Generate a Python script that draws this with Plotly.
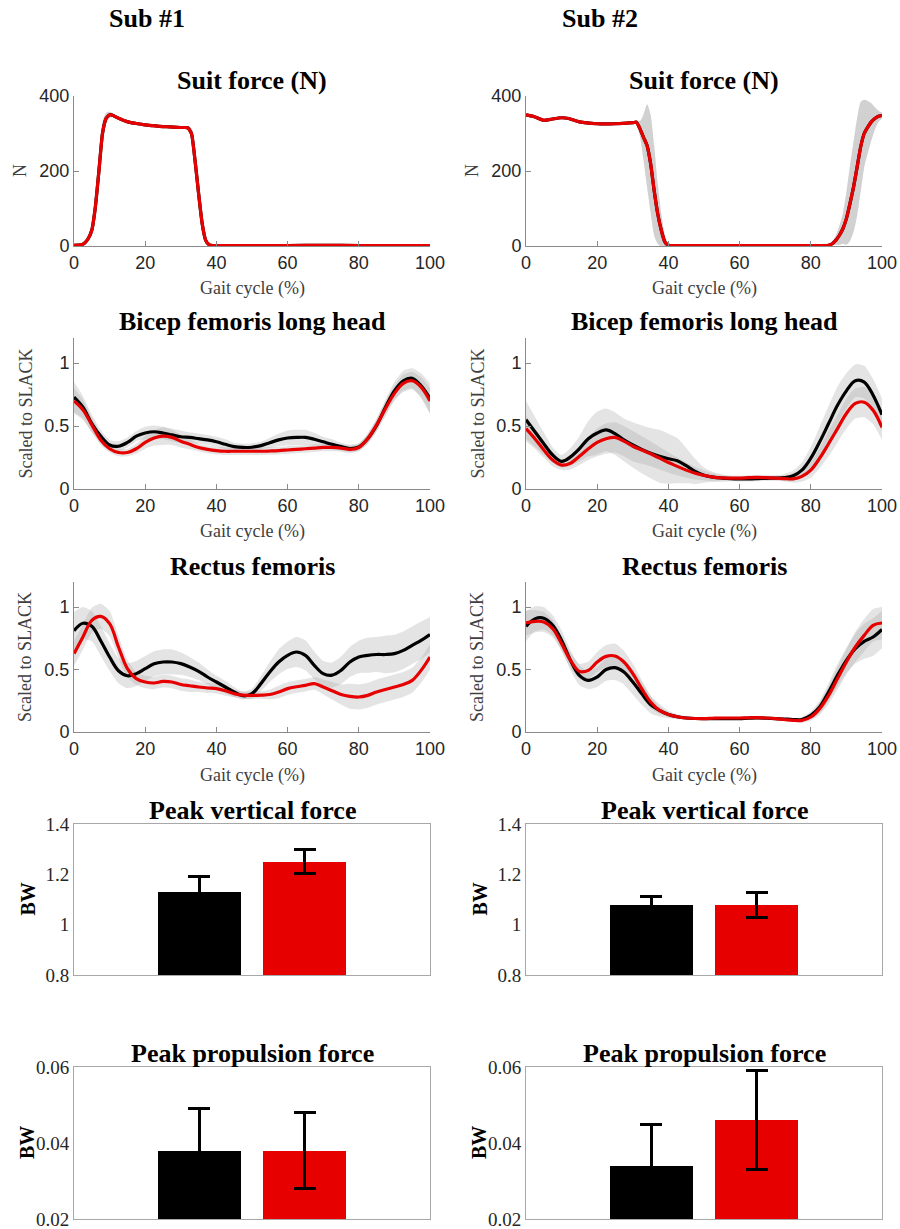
import plotly.graph_objects as go

# ---------------- DATA ----------------
GAIT = [0, 2.5, 5, 7.5, 10, 12.5, 15, 17.5, 20, 22.5, 25, 27.5, 30, 32.5, 35, 37.5, 40, 42.5, 45, 47.5,
        50, 52.5, 55, 57.5, 60, 62.5, 65, 67.5, 70, 72.5, 75, 77.5, 80, 82.5, 85, 87.5, 90, 92.5, 95, 97.5, 100]

# Suit force, subject 1
SF1_X = [0, 2, 3, 4, 5, 6, 7, 8, 9, 10, 11, 12, 14, 16, 18, 20, 22, 24, 26, 28,
         30, 31, 32, 33, 34, 35, 36, 37, 38, 39, 40, 50, 60, 70, 80, 90, 100]
SF1_Y = [2, 3, 8, 20, 42, 104, 200, 300, 340, 350, 348, 343, 335, 329, 326, 323, 321, 319, 318, 317,
         316, 316, 315, 300, 228, 140, 60, 15, 3, 1, 1, 1, 1, 2, 1, 1, 1]
SF1_SD = [2, 2, 4, 8, 15, 30, 40, 30, 15, 8, 5, 4, 3, 3, 3, 3, 3, 3, 3, 3,
          3, 3, 5, 15, 30, 35, 25, 10, 3, 1, 1, 1, 1, 1, 1, 1, 1]

# Suit force, subject 2
SF2_X = [0, 2, 5, 7, 10, 12, 15, 20, 25, 30, 31, 32, 33, 34, 35, 36, 37, 38, 39, 40,
         45, 50, 60, 70, 80, 84, 85, 86, 87, 88, 89, 90, 91, 92, 93, 94, 95, 96, 97, 98, 99, 100]
SF2_Y = [350, 346, 335, 338, 342, 340, 331, 326, 326, 329, 330, 313, 290, 268, 220, 148, 86, 42, 11, 2,
         1, 1, 1, 1, 1, 1, 2, 6, 15, 28, 46, 73, 113, 157, 210, 264, 300, 317, 331, 340, 346, 348]
SF2_SD = [3, 3, 3, 3, 3, 3, 3, 3, 3, 3, 5, 20, 60, 110, 130, 120, 80, 45, 20, 5,
          1, 1, 1, 1, 1, 1, 2, 5, 12, 25, 40, 70, 100, 120, 130, 120, 90, 70, 50, 30, 15, 8]

# Bicep femoris long head
BF1_BLACK = [0.73, 0.65, 0.52, 0.42, 0.35, 0.34, 0.37, 0.42, 0.445, 0.455, 0.445, 0.43, 0.415, 0.41, 0.40, 0.39,
             0.375, 0.355, 0.337, 0.33, 0.332, 0.345, 0.368, 0.39, 0.405, 0.41, 0.41, 0.395, 0.375, 0.355, 0.337,
             0.322, 0.335, 0.40, 0.505, 0.65, 0.78, 0.86, 0.88, 0.82, 0.72]
BF1_BLACK_SD = [0.12, 0.09, 0.07, 0.05, 0.04, 0.04, 0.04, 0.04, 0.05, 0.05, 0.05, 0.05, 0.05, 0.04, 0.04, 0.04,
                0.04, 0.04, 0.03, 0.03, 0.03, 0.03, 0.04, 0.05, 0.06, 0.06, 0.06, 0.05, 0.04, 0.04, 0.03,
                0.03, 0.03, 0.04, 0.05, 0.06, 0.07, 0.08, 0.08, 0.10, 0.12]
BF1_RED = [0.70, 0.63, 0.51, 0.39, 0.32, 0.29, 0.29, 0.32, 0.37, 0.405, 0.42, 0.41, 0.38, 0.355, 0.33, 0.315,
           0.305, 0.30, 0.30, 0.30, 0.30, 0.30, 0.302, 0.305, 0.31, 0.315, 0.32, 0.325, 0.33, 0.33, 0.325,
           0.315, 0.33, 0.40, 0.51, 0.64, 0.76, 0.84, 0.86, 0.81, 0.70]
BF1_RED_SD = [0.10, 0.08, 0.06, 0.04, 0.03, 0.03, 0.03, 0.04, 0.05, 0.06, 0.07, 0.06, 0.05, 0.04, 0.03, 0.03,
              0.03, 0.03, 0.03, 0.03, 0.03, 0.03, 0.03, 0.03, 0.03, 0.03, 0.03, 0.03, 0.03, 0.03, 0.03,
              0.03, 0.03, 0.04, 0.05, 0.06, 0.06, 0.07, 0.07, 0.08, 0.10]

BF2_BLACK = [0.55, 0.455, 0.36, 0.27, 0.22, 0.255, 0.32, 0.40, 0.445, 0.47, 0.44, 0.39, 0.35, 0.315, 0.285, 0.26,
             0.24, 0.225, 0.185, 0.14, 0.11, 0.095, 0.087, 0.082, 0.08, 0.08, 0.082, 0.085, 0.087, 0.09, 0.105,
             0.15, 0.245, 0.375, 0.52, 0.665, 0.78, 0.86, 0.85, 0.745, 0.59]
BF2_BLACK_SD = [0.15, 0.12, 0.09, 0.06, 0.05, 0.07, 0.10, 0.14, 0.17, 0.17, 0.17, 0.17, 0.18, 0.19, 0.20, 0.21,
                0.20, 0.18, 0.14, 0.10, 0.06, 0.04, 0.03, 0.02, 0.02, 0.02, 0.02, 0.02, 0.02, 0.03, 0.04,
                0.06, 0.09, 0.12, 0.14, 0.15, 0.14, 0.13, 0.13, 0.13, 0.13]
BF2_RED = [0.48, 0.40, 0.31, 0.23, 0.19, 0.205, 0.26, 0.32, 0.37, 0.40, 0.41, 0.38, 0.34, 0.31, 0.28, 0.245,
           0.21, 0.18, 0.15, 0.125, 0.108, 0.095, 0.088, 0.087, 0.087, 0.09, 0.092, 0.09, 0.087, 0.083, 0.08,
           0.10, 0.15, 0.245, 0.36, 0.48, 0.60, 0.68, 0.69, 0.625, 0.49]
BF2_RED_SD = [0.10, 0.08, 0.06, 0.05, 0.04, 0.05, 0.07, 0.09, 0.11, 0.12, 0.12, 0.12, 0.12, 0.11, 0.10, 0.09,
              0.08, 0.07, 0.06, 0.05, 0.04, 0.03, 0.02, 0.02, 0.02, 0.02, 0.02, 0.02, 0.02, 0.02, 0.03,
              0.04, 0.06, 0.08, 0.10, 0.11, 0.12, 0.12, 0.12, 0.11, 0.10]

# Rectus femoris
RF1_BLACK = [0.81, 0.87, 0.845, 0.73, 0.60, 0.49, 0.45, 0.467, 0.507, 0.545, 0.56, 0.56, 0.547, 0.52, 0.485, 0.44,
             0.40, 0.36, 0.32, 0.29, 0.307, 0.387, 0.48, 0.56, 0.613, 0.64, 0.613, 0.533, 0.467, 0.455, 0.493,
             0.56, 0.60, 0.613, 0.62, 0.62, 0.627, 0.653, 0.693, 0.733, 0.78]
RF1_BLACK_SD = [0.15, 0.13, 0.12, 0.12, 0.11, 0.10, 0.10, 0.10, 0.10, 0.10, 0.10, 0.10, 0.09, 0.08, 0.07, 0.06,
                0.05, 0.05, 0.04, 0.03, 0.04, 0.06, 0.08, 0.10, 0.11, 0.12, 0.12, 0.11, 0.10, 0.10, 0.11,
                0.12, 0.13, 0.14, 0.14, 0.15, 0.15, 0.15, 0.15, 0.15, 0.14]
RF1_RED = [0.627, 0.76, 0.893, 0.925, 0.867, 0.68, 0.507, 0.427, 0.40, 0.392, 0.405, 0.40, 0.38, 0.37, 0.36, 0.352,
           0.347, 0.33, 0.307, 0.295, 0.293, 0.295, 0.30, 0.32, 0.347, 0.362, 0.373, 0.387, 0.36, 0.33, 0.30,
           0.285, 0.28, 0.293, 0.32, 0.34, 0.36, 0.38, 0.413, 0.493, 0.60]
RF1_RED_SD = [0.10, 0.10, 0.10, 0.10, 0.10, 0.09, 0.07, 0.05, 0.05, 0.05, 0.05, 0.05, 0.05, 0.05, 0.04, 0.04,
              0.04, 0.04, 0.03, 0.03, 0.03, 0.03, 0.04, 0.05, 0.05, 0.05, 0.05, 0.05, 0.06, 0.07, 0.08,
              0.10, 0.10, 0.10, 0.10, 0.10, 0.10, 0.10, 0.10, 0.10, 0.10]

RF2_BLACK = [0.845, 0.905, 0.91, 0.853, 0.733, 0.573, 0.453, 0.413, 0.44, 0.50, 0.515, 0.48, 0.40, 0.307, 0.22, 0.173,
             0.14, 0.122, 0.112, 0.108, 0.107, 0.107, 0.107, 0.107, 0.107, 0.11, 0.112, 0.11, 0.107, 0.104, 0.10,
             0.10, 0.133, 0.20, 0.32, 0.453, 0.573, 0.667, 0.725, 0.76, 0.82]
RF2_BLACK_SD = [0.12, 0.10, 0.09, 0.08, 0.08, 0.08, 0.08, 0.07, 0.08, 0.09, 0.10, 0.10, 0.10, 0.09, 0.07, 0.05,
                0.03, 0.02, 0.015, 0.01, 0.01, 0.01, 0.01, 0.01, 0.01, 0.01, 0.01, 0.01, 0.01, 0.01, 0.01,
                0.02, 0.03, 0.05, 0.07, 0.09, 0.10, 0.12, 0.14, 0.15, 0.15]
RF2_RED = [0.872, 0.885, 0.88, 0.827, 0.707, 0.573, 0.485, 0.493, 0.56, 0.605, 0.608, 0.56, 0.467, 0.347, 0.24, 0.173,
           0.14, 0.122, 0.112, 0.108, 0.107, 0.11, 0.112, 0.112, 0.112, 0.114, 0.115, 0.112, 0.107, 0.10, 0.093,
           0.093, 0.12, 0.187, 0.293, 0.427, 0.56, 0.68, 0.773, 0.853, 0.872]
RF2_RED_SD = [0.10, 0.09, 0.08, 0.07, 0.06, 0.06, 0.06, 0.07, 0.08, 0.09, 0.10, 0.09, 0.08, 0.07, 0.05, 0.03,
              0.02, 0.015, 0.01, 0.01, 0.01, 0.01, 0.01, 0.01, 0.01, 0.01, 0.01, 0.01, 0.01, 0.01, 0.01,
              0.02, 0.03, 0.05, 0.07, 0.09, 0.10, 0.12, 0.13, 0.13, 0.13]

# Bar charts (No suit = black, Suit = red)
CONDITIONS = ["No suit", "Suit"]
PVF1 = [1.13, 1.25]
PVF1_ERR = [0.06, 0.047]
PVF2 = [1.079, 1.079]
PVF2_ERR = [0.033, 0.05]
PPF1 = [0.038, 0.038]
PPF1_ERR = [0.011, 0.010]
PPF2 = [0.034, 0.046]
PPF2_ERR = [0.011, 0.013]

# ---------------- STYLE / LAYOUT ----------------
W, H = 900, 1229
SERIF = "Liberation Serif, Times New Roman, serif"
SANS = "Liberation Sans, Arial, Helvetica, sans-serif"
BLACK = "#000000"
RED = "#e60000"
BAND = "rgba(165,165,165,0.30)"
TICKC = "#262626"
AXC = "#8a8a8a"

COLS = [(74, 430), (526, 882)]
ROWS = [(96, 246), (338, 489), (582, 732), (824, 975), (1067, 1219)]


def xd(c):
    return [c[0] / W, c[1] / W]


def yd(r):
    return [1 - r[1] / H, 1 - r[0] / H]


fig = go.Figure()
annotations = []
axis_idx = 0


def ann(text, px, py, size, family=SERIF, color="#000", angle=0):
    annotations.append(dict(text=text, x=px / W, y=1 - py / H, xref="paper", yref="paper",
                            showarrow=False, xanchor="center", yanchor="middle",
                            font=dict(family=family, size=size, color=color), textangle=angle))


def next_axes():
    global axis_idx
    axis_idx += 1
    s = "" if axis_idx == 1 else str(axis_idx)
    return "x" + s, "y" + s, "xaxis" + s, "yaxis" + s


def band(xa, ya, x, mean, sd):
    hi = [m + s for m, s in zip(mean, sd)]
    lo = [m - s for m, s in zip(mean, sd)]
    fig.add_trace(go.Scatter(x=x, y=hi, xaxis=xa, yaxis=ya, mode="lines",
                             line=dict(width=0, shape="spline", smoothing=0.6), hoverinfo="skip",
                             showlegend=False))
    fig.add_trace(go.Scatter(x=x, y=lo, xaxis=xa, yaxis=ya, mode="lines", fill="tonexty",
                             fillcolor=BAND, line=dict(width=0, shape="spline", smoothing=0.6),
                             hoverinfo="skip", showlegend=False))


def line_panel(row, col, title, x, series, yrange, ytickvals, yticktext, ylabel, smoothing=1.0):
    xa, ya, xk, yk = next_axes()
    for mean, sd, color in series:
        band(xa, ya, x, mean, sd)
    for mean, sd, color in series:
        fig.add_trace(go.Scatter(x=x, y=mean, xaxis=xa, yaxis=ya, mode="lines",
                                 line=dict(color=color, width=3.2, shape="spline", smoothing=smoothing),
                                 showlegend=False))
    fig.layout[xk] = dict(domain=xd(COLS[col]), anchor=ya, range=[0, 100], automargin=False,
                          tickvals=[0, 20, 40, 60, 80, 100], ticks="inside", ticklen=5, tickcolor=AXC,
                          showline=True, linecolor=AXC, linewidth=1, showgrid=False, zeroline=False,
                          ticklabeloverflow="allow",
                          tickfont=dict(family=SANS, size=18, color=TICKC), fixedrange=True)
    fig.layout[yk] = dict(domain=yd(ROWS[row]), anchor=xa, range=yrange, automargin=False,
                          tickvals=ytickvals, ticktext=yticktext, ticks="inside", ticklen=5, tickcolor=AXC,
                          showline=True, linecolor=AXC, linewidth=1, showgrid=False, zeroline=False,
                          ticklabeloverflow="allow",
                          tickfont=dict(family=SANS, size=18, color=TICKC), fixedrange=True)
    cx = (COLS[col][0] + COLS[col][1]) / 2
    top, bot = ROWS[row]
    ann("<b>" + title + "</b>", cx, top - 16, 26)
    ann("Gait cycle (%)", cx, bot + 43, 18, color="#404040")
    ann(ylabel, COLS[col][0] - (54 if ylabel == "N" else 49), (top + bot) / 2, 18,
        color="#404040", angle=-90)


def bar_panel(row, col, title, values, errs, yrange, ytickvals, yticktext):
    xa, ya, xk, yk = next_axes()
    fig.add_trace(go.Bar(x=CONDITIONS, y=[v - yrange[0] for v in values], xaxis=xa, yaxis=ya, width=0.79,
                         marker=dict(color=[BLACK, RED], line=dict(width=0)),
                         error_y=dict(type="data", array=errs, color="#000", thickness=3, width=11),
                         base=yrange[0], showlegend=False))
    fig.layout[xk] = dict(domain=xd(COLS[col]), anchor=ya, range=[-1.195, 2.195], type="category",
                          automargin=False,
                          showticklabels=False, ticks="", showline=True, mirror=True, linecolor="#a8a8a8",
                          linewidth=1, showgrid=False, zeroline=False, fixedrange=True)
    fig.layout[yk] = dict(domain=yd(ROWS[row]), anchor=xa, range=yrange, automargin=False,
                          tickvals=ytickvals, ticktext=yticktext, ticks="", showline=True, mirror=True,
                          linecolor="#a8a8a8", linewidth=1, showgrid=False, zeroline=False,
                          ticklabeloverflow="allow",
                          tickfont=dict(family=SERIF, size=19, color=TICKC), fixedrange=True)
    cx = (COLS[col][0] + COLS[col][1]) / 2
    top, bot = ROWS[row]
    ann("<b>" + title + "</b>", cx, top - 14, 26)
    ann("<b>BW</b>", COLS[col][0] - 47, (top + bot) / 2, 20, angle=-90)


line_panel(0, 0, "Suit force (N)", SF1_X, [(SF1_Y, SF1_SD, BLACK), (SF1_Y, SF1_SD, RED)],
           [0, 400], [0, 200, 400], ["0", "200", "400"], "N", smoothing=0.5)
line_panel(0, 1, "Suit force (N)", SF2_X, [(SF2_Y, SF2_SD, BLACK), (SF2_Y, SF2_SD, RED)],
           [0, 400], [0, 200, 400], ["0", "200", "400"], "N", smoothing=0.5)
line_panel(1, 0, "Bicep femoris long head", GAIT,
           [(BF1_BLACK, BF1_BLACK_SD, BLACK), (BF1_RED, BF1_RED_SD, RED)],
           [0, 1.2], [0, 0.5, 1], ["0", "0.5", "1"], "Scaled to SLACK")
line_panel(1, 1, "Bicep femoris long head", GAIT,
           [(BF2_BLACK, BF2_BLACK_SD, BLACK), (BF2_RED, BF2_RED_SD, RED)],
           [0, 1.2], [0, 0.5, 1], ["0", "0.5", "1"], "Scaled to SLACK")
line_panel(2, 0, "Rectus femoris", GAIT,
           [(RF1_BLACK, RF1_BLACK_SD, BLACK), (RF1_RED, RF1_RED_SD, RED)],
           [0, 1.2], [0, 0.5, 1], ["0", "0.5", "1"], "Scaled to SLACK")
line_panel(2, 1, "Rectus femoris", GAIT,
           [(RF2_BLACK, RF2_BLACK_SD, BLACK), (RF2_RED, RF2_RED_SD, RED)],
           [0, 1.2], [0, 0.5, 1], ["0", "0.5", "1"], "Scaled to SLACK")

bar_panel(3, 0, "Peak vertical force", PVF1, PVF1_ERR, [0.8, 1.4],
          [0.8, 1.0, 1.2, 1.4], ["0.8", "1", "1.2", "1.4"])
bar_panel(3, 1, "Peak vertical force", PVF2, PVF2_ERR, [0.8, 1.4],
          [0.8, 1.0, 1.2, 1.4], ["0.8", "1", "1.2", "1.4"])
bar_panel(4, 0, "Peak propulsion force", PPF1, PPF1_ERR, [0.02, 0.06],
          [0.02, 0.04, 0.06], ["0.02", "0.04", "0.06"])
bar_panel(4, 1, "Peak propulsion force", PPF2, PPF2_ERR, [0.02, 0.06],
          [0.02, 0.04, 0.06], ["0.02", "0.04", "0.06"])

ann("<b>Sub #1</b>", 147, 19, 26)
ann("<b>Sub #2</b>", 600, 19, 26)

fig.update_layout(width=W, height=H, margin=dict(l=0, r=0, t=0, b=0),
                  paper_bgcolor="white", plot_bgcolor="white",
                  annotations=annotations, showlegend=False, bargap=0)

fig.write_html("out.html", config={"displayModeBar": False, "staticPlot": True},
               post_script="document.body.style.margin='0';document.body.style.overflow='hidden';")
